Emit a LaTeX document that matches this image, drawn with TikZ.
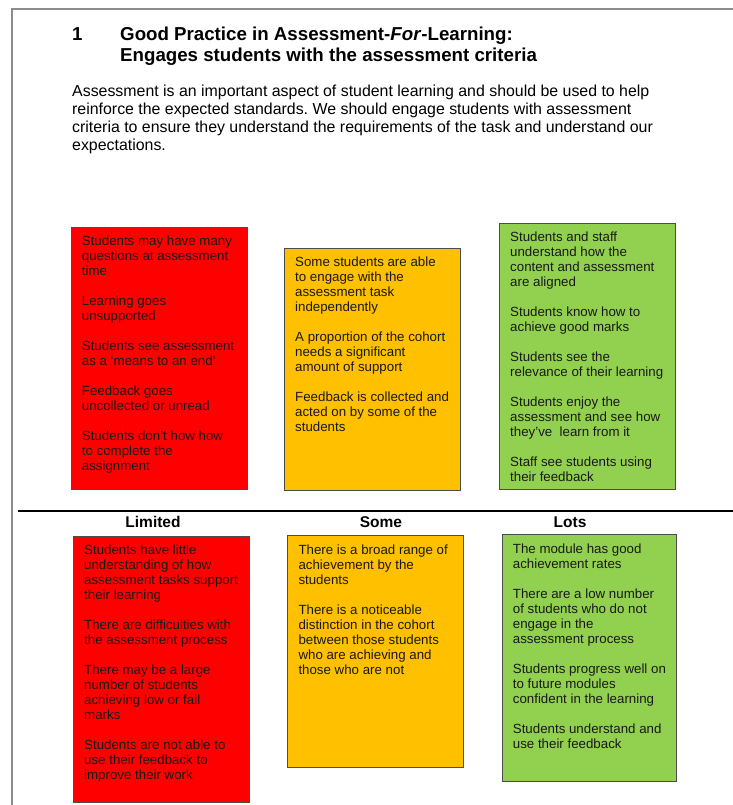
\documentclass[tikz,border=0pt]{standalone}
\usepackage{fontspec}
\setmainfont{Liberation Sans}
\frenchspacing
\definecolor{bred}{HTML}{FF0000}
\definecolor{borange}{HTML}{FFC000}
\definecolor{bgreen}{HTML}{92D050}
\definecolor{frameg}{HTML}{8C8C8C}
\newcommand{\fstrut}{\rule{0pt}{10pt}}
\begin{document}
\begin{tikzpicture}[x=1pt,y=-1pt,
  box/.style={draw=black!70, line width=1.1pt, anchor=north west, inner sep=0pt, minimum width=176pt},
  btext/.style={anchor=north west, inner sep=0pt, align=left, text=black!90, font=\fontsize{13.3}{15}\selectfont},
  lbl/.style={anchor=base, inner sep=0pt, font=\fontsize{15.5}{18}\selectfont\bfseries},
  ttl/.style={anchor=base west, inner sep=0pt, font=\fontsize{18.7}{22}\selectfont\bfseries}]
\useasboundingbox (0,0) rectangle (732,805);
\fill[white] (0,0) rectangle (732,805);
% frame
\draw[frameg, line width=2pt] (12,806) -- (12,9) -- (733,9);
% title
\node[ttl] (num) at (72,40.5) {1};
\node[ttl] (t1) at (120,40.5) {Good Practice in Assessment-\textit{For}-Learning:};
\node[ttl] (t2) at (120,62) {Engages students with the assessment criteria};
\node[anchor=north west, inner sep=0pt, align=left, font=\fontsize{15.9}{17.8}\selectfont] (intro) at (72,84.5)
 {\rule{0pt}{12pt}Assessment is an important aspect of student learning and should be used to help\\
  reinforce the expected standards. We should engage students with assessment\\
  criteria to ensure they understand the requirements of the task and understand our\\
  expectations.};
% top boxes
\node[box, fill=bred, minimum height=262pt] (r1) at (71,227) {};
\node[box, fill=borange, minimum height=242.5pt] (o1) at (284,247.5) {};
\node[box, fill=bgreen, minimum height=266pt] (g1) at (499,223) {};
\node[btext] (r1t) at (81.7,235) {\fstrut Students may have many\\questions at assessment\\time\\[15pt]Learning goes\\unsupported\\[15pt]Students see assessment\\as a ‘means to an end’\\[15pt]Feedback goes\\uncollected or unread\\[15pt]Students don’t how how\\to complete the\\assignment};
\node[btext] (o1t) at (295,256) {\fstrut Some students are able\\to engage with the\\assessment task\\independently\\[15pt]A proportion of the cohort\\needs a significant\\amount of support\\[15pt]Feedback is collected and\\acted on by some of the\\students};
\node[btext] (g1t) at (510,231) {\fstrut Students and staff\\understand how the\\content and assessment\\are aligned\\[15pt]Students know how to\\achieve good marks\\[15pt]Students see the\\relevance of their learning\\[15pt]Students enjoy the\\assessment and see how\\they’ve\ \ learn from it\\[15pt]Staff see students using\\their feedback};
% divider
\coordinate (dl) at (18,511);
\coordinate (dr) at (733,511);
\draw[line width=2.5pt] (dl) -- (dr);
% labels
\node[lbl] (lim) at (153,527.3) {Limited};
\node[lbl] (som) at (381,527.3) {Some};
\node[lbl] (lot) at (570,527.3) {Lots};
% bottom boxes
\node[box, fill=bred, minimum height=266pt] (r2) at (73,536) {};
\node[box, fill=borange, minimum height=232pt] (o2) at (287,535) {};
\node[box, fill=bgreen, minimum height=247pt, minimum width=174pt] (g2) at (502,534) {};
\node[btext] (r2t) at (84,544.5) {\fstrut Students have little\\understanding of how\\assessment tasks support\\their learning\\[15pt]There are difficulties with\\the assessment process\\[15pt]There may be a large\\number of students\\achieving low or fail\\marks\\[15pt]Students are not able to\\use their feedback to\\improve their work};
\node[btext] (o2t) at (298.3,544.5) {\fstrut There is a broad range of\\achievement by the\\students\\[15pt]There is a noticeable\\distinction in the cohort\\between those students\\who are achieving and\\those who are not};
\node[btext] (g2t) at (512.7,543) {\fstrut The module has good\\achievement rates\\[15pt]There are a low number\\of students who do not\\engage in the\\assessment process\\[15pt]Students progress well on\\to future modules\\confident in the learning\\[15pt]Students understand and\\use their feedback};
\end{tikzpicture}
\end{document}
